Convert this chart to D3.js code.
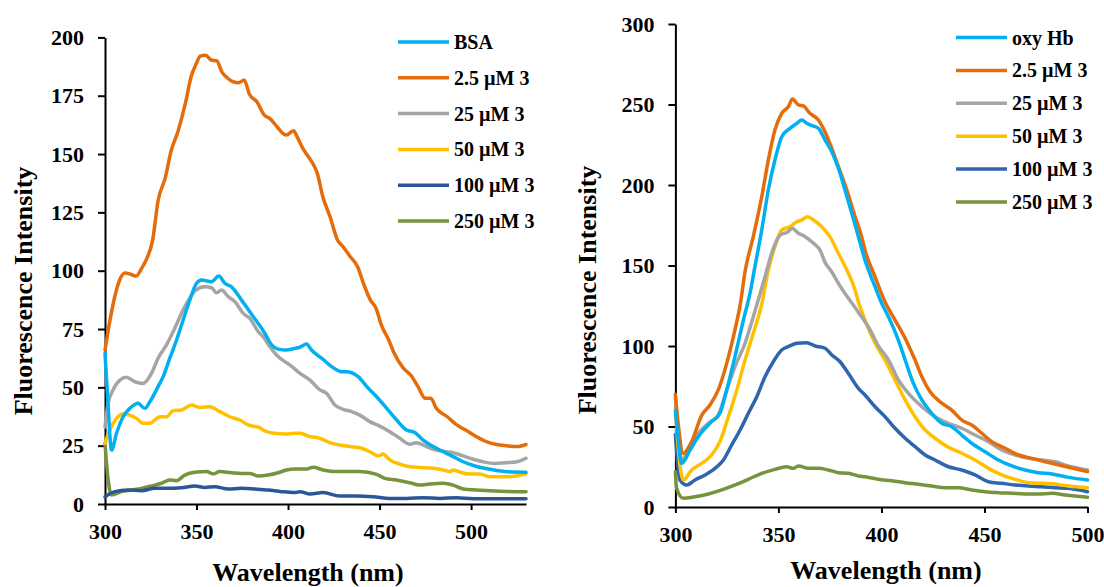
<!DOCTYPE html>
<html>
<head>
<meta charset="utf-8">
<script src="https://cdn.jsdelivr.net/npm/d3@7"></script>
<style>
  body { margin: 0; background: #fff; }
  svg { font-family: "Liberation Serif", "Times New Roman", serif; font-weight: bold; }
  .axis path, .axis line { stroke: #000; stroke-width: 2; }
  .axis text { font-size: 22px; font-weight: bold; fill: #000; font-family: "Liberation Serif", serif; }
  .title { font-size: 26px; font-weight: bold; fill: #000; }
  .legend text { font-size: 20px; font-weight: bold; fill: #000; }
  .series { fill: none; stroke-width: 3.5; stroke-linejoin: round; stroke-linecap: round; }
</style>
</head>
<body>
<svg width="1104" height="587"></svg>
<script>
// left panel: BSA quenching
const leftLabels = ["BSA", "2.5 µM 3", "25 µM 3", "50 µM 3", "100 µM 3", "250 µM 3"];
const leftColors = ["#00b0f0", "#e46c0a", "#a5a5a5", "#ffc000", "#2b5797", "#77933c"];
const leftYTicks = [0, 25, 50, 75, 100, 125, 150, 175, 200];
const leftXTicks = [300, 350, 400, 450, 500];

const bsa = [[300,64.6],[301.5,45],[303.6,23.1],[306.3,30.3],[309.9,37.4],[313.6,41],[318.1,43.2],[321.7,41],[324.5,43.8],[329,50.3],[331.8,54.6],[335.4,62.5],[339.1,70.3],[342.7,78.9],[346.3,87.4],[350,94.6],[352.7,96],[358.2,95.3],[362.2,97.7],[365.5,94.6],[369.1,93.1],[374.6,87.4],[379.1,82.4],[383.7,77.4],[387.3,73.2],[391,68.2],[394.6,66.4],[399.2,66],[403.7,66.7],[406.5,67.2],[410.1,68.6],[412.8,66],[418.3,62.5],[423.8,58.9],[429.2,56.7],[432,56.7],[438.3,54.6],[443.8,49.6],[448.4,46],[453.9,41],[459.3,36],[464.8,31.7],[469.3,30.6],[473.8,27.4],[479.3,24.6],[484.8,22.4],[490.2,20.3],[495.7,18.1],[502.1,16.3],[510.3,14.9],[520,13.8],[530,13.6]];
const bsa2_5 = [[300,66],[303,80],[306,91],[308,96],[311,99],[314,98.5],[317,97.7],[320,101],[323,105.5],[326,113],[329,130],[333,140],[336,151],[340,160],[344,172],[347,183],[350,189],[352,192],[355,192.4],[358,190.3],[361,190],[364,185],[367,182.5],[370,181],[373,180.6],[376,181.7],[379,175.5],[383,172.4],[387,166.7],[390,165.3],[394,161.7],[397,159],[399,158.2],[403,160],[405,157.4],[408,152.5],[411,149],[414,145.3],[416,141.7],[419,131.7],[423,123],[427,113.2],[430,110.3],[434,106],[438,101.7],[441,95],[445,87.4],[448,84],[451,76.7],[455,70.3],[458,64.6],[463,58.2],[467,55.3],[471,50.3],[475,45.3],[478,45.3],[481,41],[487,37.4],[492,34],[497,31.7],[503,28.8],[509,26.5],[514,25.5],[519,25],[525,24.6],[530,25.5]];
const bsa25 = [[300,33],[301.7,43.2],[304.4,48.9],[308.1,53.1],[311.7,54.3],[316.3,52.4],[320.8,51.7],[325.4,56],[329,62.5],[333.6,68.2],[338.1,75.3],[342.7,83.2],[346.3,88.2],[349.1,91.4],[354.5,93.1],[358.2,92.7],[360.9,90.6],[363.7,91.7],[367.3,88.9],[371,86.7],[375.5,81.7],[379.1,79.6],[383.7,73.9],[386.4,71.7],[390.1,67.4],[393.7,63.9],[398.3,61],[401,59.6],[406.5,56],[412,53.1],[417.4,48.9],[421,47.5],[425.6,42.4],[430.1,40.6],[434.7,39.6],[439.2,38.1],[444.7,35.3],[450.1,33.4],[455.6,31],[461,28.2],[466.6,25.6],[470.2,26.3],[475.7,24.6],[481.1,23.1],[486.6,22.4],[490.2,22],[495.7,20.6],[501.2,19.2],[506.6,18.1],[513,17.4],[519,17.7],[525,18.1],[530,19.6]];
const bsa50 = [[300,26],[302.6,31.7],[306.3,36.7],[309.9,38.6],[313.6,38.1],[317.2,36.7],[320.8,34.6],[324.5,34.6],[330,37.4],[333.6,37.4],[337.2,40],[341.8,40.3],[347.3,42.4],[351.8,41.4],[357.3,41.7],[362.7,39.6],[368.2,37.4],[373.7,36],[378.2,33.9],[383.7,32.9],[388.3,31],[392.8,30.3],[398.3,30],[403.7,30.3],[406.5,30.3],[412,28.9],[417.4,28.2],[422.8,26.3],[428.3,25.3],[433.8,24.6],[439.2,24.1],[444.7,22.4],[449.2,20.6],[452,21.4],[455.6,18.9],[461,17.1],[466.6,16],[472,15.7],[479.3,15.3],[484.8,14.6],[488.4,13.9],[490.2,14.6],[494,13.6],[499.4,12.9],[504.8,12.9],[510.3,11.7],[521,11.7],[530,12.9]];
const bsa100 = [[300,3.1],[305.4,5.3],[312.6,6],[319.9,5.7],[327.2,6.7],[334.5,6.7],[341.8,7],[349.1,7.7],[354.5,7.1],[360,7.4],[367.3,6.4],[374.6,6.7],[381.9,6.4],[389.1,6],[396.4,5.3],[403.7,4.9],[406.5,5.3],[412,4.3],[419.2,4.9],[428.3,3.4],[437.4,3.4],[446.5,3.1],[455.6,2.4],[464.8,2.4],[473.8,2.7],[483,2.4],[492.1,2.7],[501.2,2.3],[510.3,2.3],[520,2.3],[530,2.3]];
const bsa250 = [[300,26],[301.5,12],[303.5,3.9],[309,5.3],[314.5,6],[319.9,6.7],[325.4,7.7],[330.9,8.9],[335.4,10.3],[339.1,10],[343.6,12.4],[349.1,13.6],[355.5,13.9],[359.1,12.9],[362.7,13.9],[369.1,13.4],[374.6,13.1],[379.1,13.1],[383.7,12],[389.1,12.4],[394.6,13.4],[399.2,14.6],[403.7,15],[410.1,15],[413.7,15.7],[419.2,14.6],[426.5,13.9],[433.8,13.9],[439.2,13.9],[448.4,12.7],[452.9,11],[459.3,10.3],[466.6,9.1],[472,8.1],[477.5,8.6],[484.8,8.9],[490.2,8.1],[495.7,6.4],[503,6],[510.3,5.7],[520,5.4],[530,5.3]];

// right panel: oxy Hb quenching
const rightLabels = ["oxy Hb", "2.5 µM 3", "25 µM 3", "50 µM 3", "100 µM 3", "250 µM 3"];
const rightColors = ["#00b0f0", "#e46c0a", "#a5a5a5", "#ffc000", "#2e65ad", "#77933c"];
const rightYTicks = [0, 50, 100, 150, 200, 250, 300];
const rightXTicks = [300, 350, 400, 450, 500];

const hb = [[300,60],[301.5,40],[303,27.1],[307.1,35.4],[311.1,43.7],[317.6,53],[321.6,58.2],[324.9,72.7],[328.9,93.4],[333,116.1],[336.2,132.7],[338.6,149.3],[341.9,172],[345.1,196.9],[348.3,215.5],[351.6,230],[355.6,235.2],[358.9,238.3],[361.3,240.4],[363.7,238.3],[367,236.6],[369.4,235.2],[372.6,228],[375.9,220.7],[379.1,210.4],[382.3,196.9],[385.6,182.4],[388.8,167.9],[392,153.4],[396.9,136.8],[400.1,126.5],[403.4,118.2],[408.2,103.7],[411.5,91.3],[415.5,76.8],[419.6,66.5],[424.4,58.2],[429.3,52],[434.1,49.9],[439,44.7],[443.8,39.6],[450.3,34.3],[456.7,29.2],[463.3,25.5],[469.7,23],[476.2,21.3],[482.7,20.5],[490.7,18.4],[500,16.8]];
const hb2_5 = [[300,70],[301.5,50],[303.8,33.3],[307.9,40.6],[312.8,57.1],[316.8,63.4],[320.8,72.7],[324.9,89.2],[328.9,110],[331.5,126],[333.8,146.2],[337.8,167.9],[341.9,192.7],[345.1,215.5],[348.3,234.2],[351.6,244.5],[354.8,248.6],[356.8,253.4],[359.7,249.7],[362.1,249.1],[365.3,244.5],[369.4,240.4],[372.6,233.1],[375.9,222.8],[379.1,211.4],[383.2,196.9],[387.2,180.3],[390.4,167.9],[392,159.6],[396.9,143],[401.7,127.5],[406.6,116.1],[412.3,102.7],[416.3,91.3],[419.6,80.9],[423.6,71.6],[428.4,65.4],[434.1,60.2],[439,54],[443.8,50.9],[448.7,45.8],[453.5,40.6],[460,36.5],[466.5,32.3],[473,30.2],[479.4,28.1],[484.3,26.7],[490.7,24.7],[500,22]];
const hb25 = [[300,68],[301.5,45],[303,29.2],[307.1,36.5],[311.1,45.8],[316,52],[320.8,57.1],[324.9,72.7],[328.9,87.1],[333.8,101.7],[337.8,118.2],[340.2,128.6],[343.5,143],[346.7,157.6],[350.8,168.9],[354.8,171],[356.5,173.1],[359.7,170],[363,167.9],[367,163.8],[370.2,159.6],[372.6,152],[375.9,146],[380,137],[383.2,131],[388.8,121],[394.5,110],[398.5,100],[403.4,91.3],[408.2,78.9],[413.1,70.6],[419.6,62.3],[426,56.1],[432.5,52],[439,48.9],[445.4,44.7],[451.9,40.6],[458.4,35.4],[464.9,32.3],[471.5,30.2],[477.8,29.2],[484.3,28.1],[490.7,25.5],[500,23]];
const hb50 = [[300,62],[301.5,35],[303.8,16.8],[307.9,23],[312.8,27.1],[317.6,32.3],[321.6,40.6],[325.7,56.1],[329.8,72.7],[333.8,91.3],[337.8,107.9],[341.9,126],[345.1,147.2],[348.3,161.7],[351.6,172],[355.6,174.1],[358.9,177.2],[361.3,178.3],[364.2,180.3],[367,178.3],[371,174.1],[375,167.9],[379.1,157.6],[383.2,147.2],[387.2,134.8],[388.8,127.5],[392,116.1],[396.9,101.7],[401.7,91.3],[406.6,78.9],[411.5,66.5],[416.3,56.1],[421.2,47.8],[426,42.7],[432.5,37.1],[439,33.4],[445.4,29.2],[451.9,24],[458.4,19.9],[464.9,17.2],[471.5,15.1],[477.8,14.7],[484.3,14.3],[490.7,13],[500,12]];
const hb100 = [[300,45],[302.2,16.8],[305.5,13.7],[309.5,16.8],[314.4,19.9],[319.2,24],[323.3,29.2],[327.3,38.5],[331.4,47.8],[335.4,58.2],[339.5,68.5],[343.5,80.9],[347.5,90.2],[351.6,97.5],[354.8,99.6],[358.9,101.7],[363.7,102],[367.8,100],[372.6,98.6],[375.9,94.4],[379.9,90.2],[383.9,83],[388.8,73.7],[392,69.6],[396.9,62.3],[401.7,56.1],[406.6,48.9],[411.5,42.7],[416.3,37.5],[421.2,32.3],[426,29.2],[432.5,25],[439,23],[445.4,19.9],[451.9,15.7],[458.4,14.7],[464.9,13.7],[471.5,13],[477.8,12.6],[484.3,12],[490.7,11.6],[500,9.5]];
const hb250 = [[300,22],[300.6,11.6],[303.8,5.4],[309.5,6.4],[316,8.1],[322.5,10.6],[329,13.7],[335.4,17.2],[341.9,20.9],[348.3,23.4],[354,25],[357.2,24],[359.7,25.5],[364.5,24],[369.4,24],[374.2,23],[379.1,21.3],[383.9,20.9],[388.8,19.3],[392,18.8],[398.5,17.2],[405,16.3],[411.5,15.1],[418,14.1],[424.4,13],[430.9,12],[437.3,12],[443.8,10.6],[450.3,9.5],[456.7,8.9],[463.3,8.5],[469.7,8.1],[476.2,8.1],[482.7,8.5],[489.1,7.5],[500,6]];

const svg = d3.select("svg");

function drawPanel(cfg) {
  const x = d3.scaleLinear().domain(cfg.xDomain).range(cfg.xRange);
  const y = d3.scaleLinear().domain(cfg.yDomain).range(cfg.yRange);
  const g = svg.append("g");

  g.append("g")
    .attr("class", "axis")
    .attr("transform", `translate(0,${cfg.yRange[0]})`)
    .call(d3.axisBottom(x).tickValues(cfg.xTicks).tickSize(6).tickSizeOuter(0).tickPadding(13));
  g.append("g")
    .attr("class", "axis")
    .attr("transform", `translate(${cfg.xRange[0]},0)`)
    .call(d3.axisLeft(y).tickValues(cfg.yTicks).tickSize(7).tickSizeOuter(0).tickPadding(14));

  const line = d3.line()
    .x((d) => x(d[0]))
    .y((d) => y(d[1]))
    .curve(d3.curveMonotoneX);

  // draw back to front so the first series ends on top like the original
  g.selectAll("path.series")
    .data(cfg.series.map((s, i) => ({ s, i })).reverse())
    .join("path")
    .attr("class", "series")
    .attr("stroke", (d) => cfg.colors[d.i])
    .attr("d", (d) => line(d.s));

  const legend = g.append("g").attr("class", "legend");
  const rows = legend.selectAll("g")
    .data(cfg.labels)
    .join("g")
    .attr("transform", (d, i) => `translate(${cfg.legendX},${cfg.legendY + i * cfg.legendStep})`);
  rows.append("line")
    .attr("x1", 0).attr("x2", cfg.legendLen)
    .attr("stroke", (d, i) => cfg.colors[i])
    .attr("stroke-width", 3.5);
  rows.append("text")
    .attr("x", cfg.legendLen + 5)
    .attr("dy", "0.35em")
    .text((d) => d);

  g.append("text")
    .attr("class", "title")
    .attr("text-anchor", "middle")
    .attr("x", cfg.xTitle[0]).attr("y", cfg.xTitle[1])
    .text("Wavelength (nm)");
  g.append("text")
    .attr("class", "title")
    .attr("text-anchor", "middle")
    .attr("transform", `translate(${cfg.yTitle[0]},${cfg.yTitle[1]}) rotate(-90)`)
    .text("Fluorescence Intensity");
}

drawPanel({
  xDomain: [300, 530], xRange: [105, 526],
  yDomain: [0, 200], yRange: [504, 37.4],
  xTicks: leftXTicks, yTicks: leftYTicks,
  series: [bsa, bsa2_5, bsa25, bsa50, bsa100, bsa250],
  colors: leftColors, labels: leftLabels,
  legendX: 398, legendY: 42, legendStep: 35.8, legendLen: 51,
  xTitle: [308, 581], yTitle: [32, 291],
});

drawPanel({
  xDomain: [300, 500], xRange: [675.4, 1087.5],
  yDomain: [0, 300], yRange: [507, 24],
  xTicks: rightXTicks, yTicks: rightYTicks,
  series: [hb, hb2_5, hb25, hb50, hb100, hb250],
  colors: rightColors, labels: rightLabels,
  legendX: 956, legendY: 37.5, legendStep: 32.9, legendLen: 51,
  xTitle: [886, 579], yTitle: [596, 290],
});
</script>
</body>
</html>
